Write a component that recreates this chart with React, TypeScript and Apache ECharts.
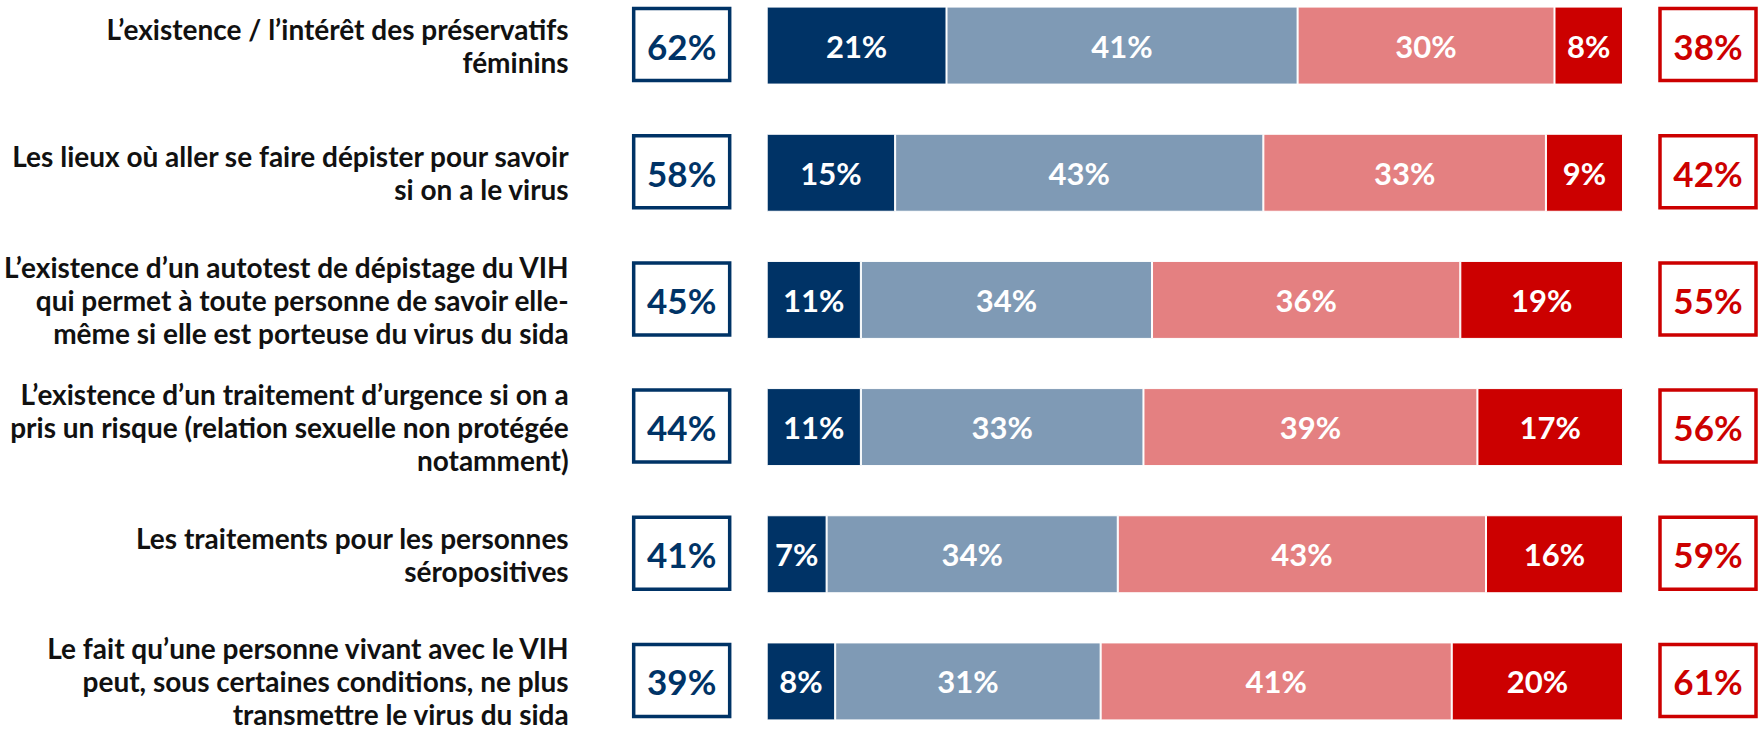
import React, { useEffect, useRef } from "react";
import * as echarts from "echarts";

const categories = [
  "L’existence / l’intérêt des préservatifs\nféminins",
  "Les lieux où aller se faire dépister pour savoir\nsi on a le virus",
  "L’existence d’un autotest de dépistage du VIH\nqui permet à toute personne de savoir elle-\nmême si elle est porteuse du virus du sida",
  "L’existence d’un traitement d’urgence si on a\npris un risque (relation sexuelle non protégée\nnotamment)",
  "Les traitements pour les personnes\nséropositives",
  "Le fait qu’une personne vivant avec le VIH\npeut, sous certaines conditions, ne plus\ntransmettre le virus du sida",
];

const seriesA = [21, 15, 11, 11, 7, 8];
const seriesB = [41, 43, 34, 33, 34, 31];
const seriesC = [30, 33, 36, 39, 43, 41];
const seriesD = [8, 9, 19, 17, 16, 20];
const leftTotals = [62, 58, 45, 44, 41, 39];
const rightTotals = [38, 42, 55, 56, 59, 61];

const NAVY = "#003366";
const STEEL = "#7F9AB5";
const SALMON = "#E48081";
const RED = "#CC0000";
const FONT = "Lato, 'Open Sans', sans-serif";
const SHIFT = 18;

export default function App() {
  const ref = useRef<HTMLDivElement>(null);
  useEffect(() => {
    if (!ref.current) return;
    const chart = echarts.init(ref.current, undefined, { renderer: "svg" });
    const barLabel = {
      show: true,
      position: "inside",
      formatter: "{c}%",
      color: "#fff",
      fontFamily: FONT,
      fontWeight: "bold",
      fontSize: 31,
    };
    const mk = (name: string, data: number[], color: string) => ({
      name,
      type: "bar",
      stack: "total",
      data,
      barWidth: 78,
      itemStyle: { color, borderColor: "#fff", borderWidth: 1 },
      label: barLabel,
    });
    chart.setOption({
      animation: false,
      grid: { left: 764, right: 140, top: 0, bottom: 0 },
      xAxis: { type: "value", min: 0, max: 100, show: false },
      yAxis: {
        type: "category",
        data: categories,
        inverse: true,
        axisLine: { show: false },
        axisTick: { show: false },
        axisLabel: {
          margin: 198,
          align: "right",
          color: "#111",
          fontFamily: FONT,
          fontWeight: "bold",
          fontSize: 28,
          lineHeight: 33,
          padding: [4, 0, 0, 0],
        },
      },
      series: [
        mk("a", seriesA, NAVY),
        mk("b", seriesB, STEEL),
        mk("c", seriesC, SALMON),
        mk("d", seriesD, RED),
        {
          type: "custom",
          clip: false,
          data: categories.map((_, i) => [0, i, leftTotals[i], rightTotals[i]]),
          encode: { x: 0, y: 1 },
          renderItem: (params: any, api: any) => {
            const idx = api.value(1);
            const p0 = api.coord([0, idx]);
            const p1 = api.coord([100, idx]);
            const h = 72;
            const w = 96;
            const lx = p0[0] - 133;
            const rx = p1[0] + 37;
            const cy = p0[1] - 1;
            const txt = (x: number, t: string, c: string) => ({
              type: "text",
              style: {
                x,
                y: cy + 1,
                text: t,
                fill: c,
                fontFamily: FONT,
                fontWeight: "bold",
                fontSize: 35,
                align: "center",
                verticalAlign: "middle",
              },
            });
            return {
              type: "group",
              children: [
                {
                  type: "rect",
                  shape: { x: lx, y: cy - h / 2, width: w, height: h },
                  style: { fill: "#fff", stroke: NAVY, lineWidth: 3.5 },
                },
                txt(lx + w / 2, api.value(2) + "%", NAVY),
                {
                  type: "rect",
                  shape: { x: rx, y: cy - h / 2, width: w, height: h },
                  style: { fill: "#fff", stroke: RED, lineWidth: 3.5 },
                },
                txt(rx + w / 2, api.value(3) + "%", RED),
              ],
            };
          },
        },
      ],
    });
    return () => chart.dispose();
  }, []);
  return (
    <div
      style={{
        position: "absolute",
        left: 0,
        top: 0,
        width: 1763,
        height: 737,
        overflow: "hidden",
        background: "#fff",
      }}
    >
      <div
        ref={ref}
        style={{ position: "absolute", left: 0, top: -SHIFT, width: 1763, height: 737 + 26 }}
      />
    </div>
  );
}
